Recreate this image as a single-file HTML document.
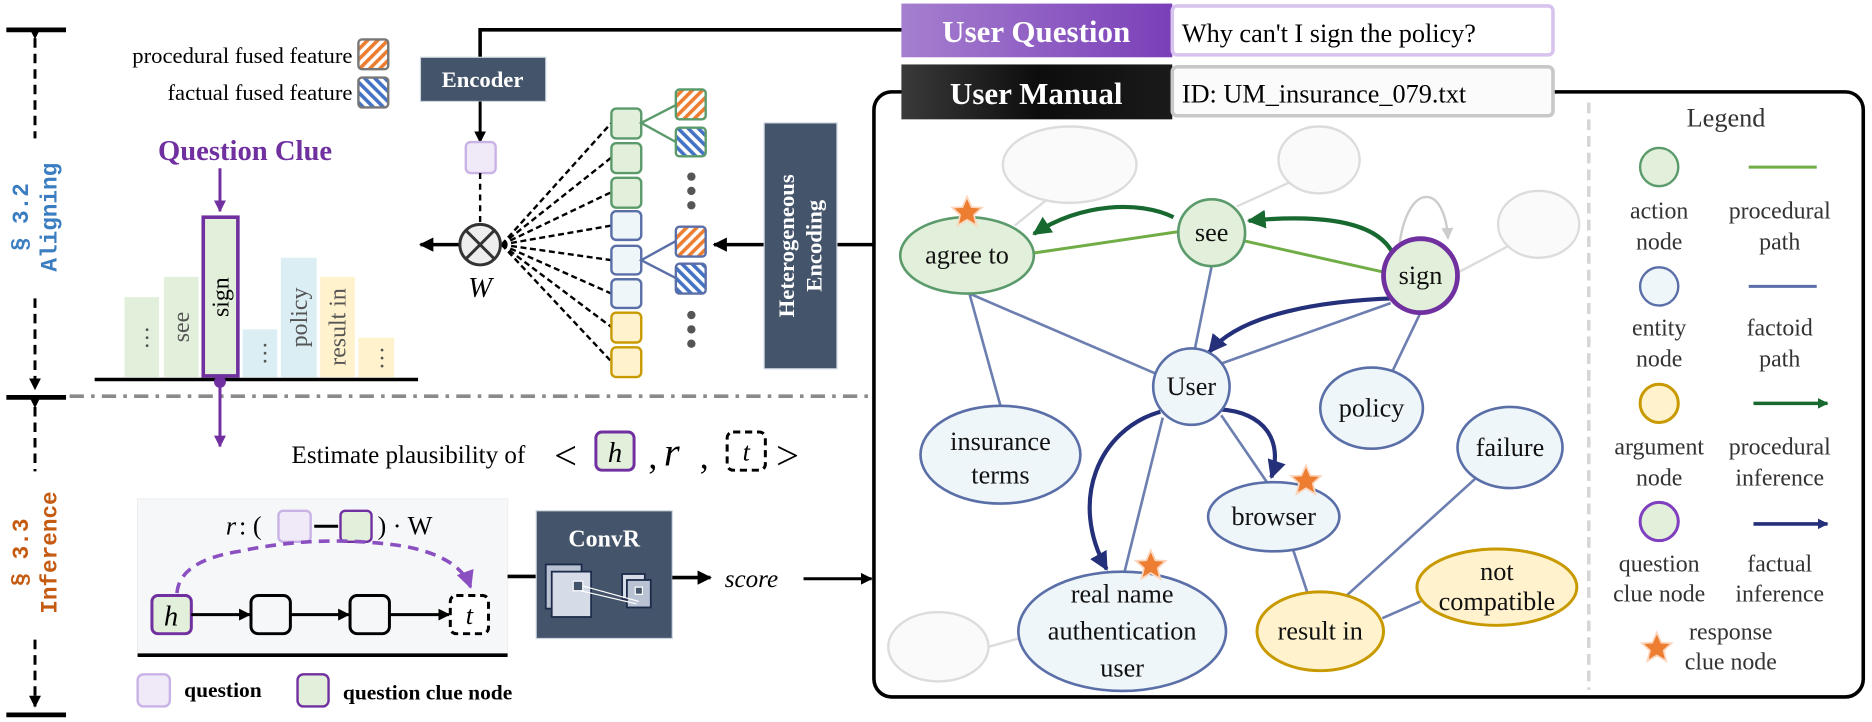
<!DOCTYPE html>
<html><head><meta charset="utf-8"><style>
html,body{margin:0;padding:0;background:#fff;font-family:"Liberation Serif","Times New Roman","DejaVu Serif",serif;}
svg{display:block;}
</style></head><body>
<svg width="1872" height="722" viewBox="0 0 1568 605" xmlns="http://www.w3.org/2000/svg" style="font-family:'Liberation Serif','Times New Roman','DejaVu Serif',serif">
<defs>
<pattern id="ho" width="6" height="6" patternUnits="userSpaceOnUse" patternTransform="rotate(45)"><rect width="6" height="6" fill="#fff"/><rect width="3" height="6" fill="#ed7d31"/></pattern>
<pattern id="hb" width="6" height="6" patternUnits="userSpaceOnUse" patternTransform="rotate(-45)"><rect width="6" height="6" fill="#fff"/><rect width="3" height="6" fill="#4472c4"/></pattern>
<linearGradient id="gq" x1="0" x2="1"><stop offset="0" stop-color="#a57fcf"/><stop offset="1" stop-color="#7a3fb8"/></linearGradient>
<linearGradient id="gm" x1="0" x2="1"><stop offset="0" stop-color="#3a3a3a"/><stop offset="0.5" stop-color="#0d0d0d"/><stop offset="1" stop-color="#1a1a1a"/></linearGradient>
<marker id="ak" viewBox="0 0 10 10" refX="9" refY="5" markerWidth="4" markerHeight="4" orient="auto"><path d="M0,0L10,5L0,10z" fill="#000"/></marker>
<marker id="ap" viewBox="0 0 10 10" refX="9" refY="5" markerWidth="4" markerHeight="4" orient="auto"><path d="M0,0L10,5L0,10z" fill="#7030a0"/></marker>
<marker id="ap2" viewBox="0 0 10 10" refX="9" refY="5" markerWidth="5" markerHeight="5" orient="auto"><path d="M0,0L10,5L0,10z" fill="#8a4fc0"/></marker>
<marker id="ag" viewBox="0 0 10 10" refX="9" refY="5" markerWidth="4.5" markerHeight="4.5" orient="auto"><path d="M0,0L10,5L0,10z" fill="#17692f"/></marker>
<marker id="an" viewBox="0 0 10 10" refX="9" refY="5" markerWidth="4.5" markerHeight="4.5" orient="auto"><path d="M0,0L10,5L0,10z" fill="#25307a"/></marker>
<marker id="agr" viewBox="0 0 10 10" refX="9" refY="5" markerWidth="5" markerHeight="5" orient="auto"><path d="M0,0L10,5L0,10z" fill="#ccc"/></marker>
<marker id="al" viewBox="0 0 10 10" refX="9" refY="5" markerWidth="3" markerHeight="3" orient="auto"><path d="M0,0L10,5L0,10z" fill="#17692f"/></marker>
<marker id="aln" viewBox="0 0 10 10" refX="9" refY="5" markerWidth="3" markerHeight="3" orient="auto"><path d="M0,0L10,5L0,10z" fill="#25307a"/></marker>
<path id="star" d="M0,-13 L3.8,-4.5 L12.4,-4 L5.8,2.1 L7.9,11 L0,6.2 L-7.9,11 L-5.8,2.1 L-12.4,-4 L-3.8,-4.5Z"/>
</defs>

<g stroke="#000" fill="none">
<line x1="5" y1="25" x2="55" y2="25" stroke-width="4"/>
<line x1="29" y1="32" x2="29" y2="116" stroke-width="2.5" stroke-dasharray="8,5" marker-start="url(#ak)"/>
<line x1="29" y1="250" x2="29" y2="326" stroke-width="2.5" stroke-dasharray="8,5" marker-end="url(#ak)"/>
<line x1="5" y1="333" x2="55" y2="333" stroke-width="4"/>
<line x1="29" y1="341" x2="29" y2="395" stroke-width="2.5" stroke-dasharray="8,5" marker-start="url(#ak)"/>
<line x1="29" y1="536" x2="29" y2="592" stroke-width="2.5" stroke-dasharray="8,5" marker-end="url(#ak)"/>
<line x1="5" y1="599" x2="55" y2="599" stroke-width="4"/>
</g>
<g style="font-family:'Liberation Mono','DejaVu Sans Mono',monospace" font-weight="bold" font-size="19" text-anchor="middle">
<text transform="translate(23,182) rotate(-90)" fill="#3a7dc0">§ 3.2</text>
<text transform="translate(47,182) rotate(-90)" fill="#3a7dc0">Aligning</text>
<text transform="translate(23,463) rotate(-90)" fill="#c55a11">§ 3.3</text>
<text transform="translate(47,463) rotate(-90)" fill="#c55a11">Inference</text>
</g>

<line x1="58" y1="332" x2="733" y2="332" stroke="#8a8a8a" stroke-width="3" stroke-dasharray="12,6,3,6"/>

<text x="295" y="53" text-anchor="end" font-size="19">procedural fused feature</text>
<rect x="300" y="33" width="25" height="25" rx="3" fill="url(#ho)" stroke="#777" stroke-width="2"/>
<text x="295" y="84" text-anchor="end" font-size="19">factual fused feature</text>
<rect x="300" y="65" width="25" height="25" rx="3" fill="url(#hb)" stroke="#777" stroke-width="2"/>

<text x="205" y="134" text-anchor="middle" font-size="24" font-weight="bold" fill="#7030a0">Question Clue</text>
<line x1="184" y1="141" x2="184" y2="177" stroke="#7030a0" stroke-width="2.5" marker-end="url(#ap)"/>
<g>
<rect x="104" y="249" width="29" height="67" fill="#e2efda"/>
<rect x="137" y="232" width="29" height="84" fill="#e2efda"/>
<rect x="170" y="182" width="29" height="133" fill="#e2efda" stroke="#7030a0" stroke-width="3"/>
<rect x="203" y="276" width="29" height="40" fill="#dbeef4"/>
<rect x="235" y="216" width="30" height="100" fill="#dbeef4"/>
<rect x="268" y="232" width="29" height="84" fill="#fff2cc"/>
<rect x="300" y="283" width="30" height="33" fill="#fff2cc"/>
</g>
<g font-size="20" fill="#555">
<text transform="translate(124,283) rotate(-90)" text-anchor="middle">…</text>
<text transform="translate(158,274) rotate(-90)" text-anchor="middle">see</text>
<text transform="translate(191,249) rotate(-90)" text-anchor="middle" fill="#000">sign</text>
<text transform="translate(223,296) rotate(-90)" text-anchor="middle">…</text>
<text transform="translate(257,266) rotate(-90)" text-anchor="middle">policy</text>
<text transform="translate(289,274) rotate(-90)" text-anchor="middle">result in</text>
<text transform="translate(321,300) rotate(-90)" text-anchor="middle">…</text>
</g>
<line x1="79" y1="318" x2="350" y2="318" stroke="#000" stroke-width="3"/>
<circle cx="184" cy="320" r="5" fill="#7030a0"/>
<line x1="184" y1="320" x2="184" y2="374" stroke="#7030a0" stroke-width="2.5" marker-end="url(#ap)"/>

<polyline points="402,48 402,25 760,25" fill="none" stroke="#000" stroke-width="3"/>
<rect x="352" y="48" width="105" height="37" fill="#44546a" stroke="#cdd5e0"/>
<text x="404" y="73" text-anchor="middle" font-size="19" font-weight="bold" fill="#fff">Encoder</text>
<line x1="402" y1="85" x2="402" y2="119" stroke="#000" stroke-width="2.5" marker-end="url(#ak)"/>
<rect x="390" y="119" width="25" height="26" rx="4" fill="#f0eaf8" stroke="#c9b3e6" stroke-width="2"/>
<line x1="402" y1="145" x2="402" y2="188" stroke="#000" stroke-width="2" stroke-dasharray="5,4"/>
<line x1="385" y1="205" x2="352" y2="205" stroke="#000" stroke-width="3" marker-end="url(#ak)"/>

<g stroke="#000" stroke-width="2" stroke-dasharray="5,3">
<line x1="420" y1="205" x2="512" y2="103"/><line x1="420" y1="205" x2="512" y2="132"/><line x1="420" y1="205" x2="512" y2="161"/>
<line x1="420" y1="205" x2="512" y2="189"/><line x1="420" y1="205" x2="512" y2="218"/><line x1="420" y1="205" x2="512" y2="246"/>
<line x1="420" y1="205" x2="512" y2="274"/><line x1="420" y1="205" x2="512" y2="303"/>
</g>
<circle cx="402" cy="205" r="17" fill="#eee" stroke="#333" stroke-width="2.5"/>
<line x1="390" y1="193" x2="414" y2="217" stroke="#333" stroke-width="2.5"/><line x1="414" y1="193" x2="390" y2="217" stroke="#333" stroke-width="2.5"/>
<text x="402" y="249" text-anchor="middle" font-size="24" font-style="italic">W</text>

<g stroke-width="2">
<rect x="512" y="91" width="25" height="25" rx="4" fill="#e2efda" stroke="#5b9b6b"/>
<rect x="512" y="120" width="25" height="25" rx="4" fill="#e2efda" stroke="#5b9b6b"/>
<rect x="512" y="149" width="25" height="25" rx="4" fill="#e2efda" stroke="#5b9b6b"/>
<rect x="512" y="177" width="25" height="24" rx="4" fill="#eef6f9" stroke="#5a6ea8"/>
<rect x="512" y="206" width="25" height="24" rx="4" fill="#eef6f9" stroke="#5a6ea8"/>
<rect x="512" y="234" width="25" height="24" rx="4" fill="#eef6f9" stroke="#5a6ea8"/>
<rect x="512" y="262" width="25" height="25" rx="4" fill="#fff2cc" stroke="#c89a00"/>
<rect x="512" y="291" width="25" height="25" rx="4" fill="#fff2cc" stroke="#c89a00"/>
<polyline points="566,88 537,103 566,119" fill="none" stroke="#5b9b6b"/>
<polyline points="566,202 537,218 566,233" fill="none" stroke="#5a6ea8"/>
<rect x="566" y="75" width="25" height="25" rx="3" fill="url(#ho)" stroke="#5b9b6b"/>
<rect x="566" y="107" width="25" height="24" rx="3" fill="url(#hb)" stroke="#5b9b6b"/>
<rect x="566" y="190" width="25" height="25" rx="3" fill="url(#ho)" stroke="#5a6ea8"/>
<rect x="566" y="221" width="25" height="25" rx="3" fill="url(#hb)" stroke="#5a6ea8"/>
</g>
<g fill="#555"><circle cx="579" cy="148" r="3.5"/><circle cx="579" cy="160" r="3.5"/><circle cx="579" cy="172" r="3.5"/><circle cx="579" cy="264" r="3.5"/><circle cx="579" cy="276" r="3.5"/><circle cx="579" cy="288" r="3.5"/></g>

<line x1="733" y1="205" x2="700" y2="205" stroke="#000" stroke-width="3"/>
<line x1="640" y1="205" x2="598" y2="205" stroke="#000" stroke-width="3" marker-end="url(#ak)"/>
<rect x="640" y="103" width="61" height="206" fill="#44546a" stroke="#cdd5e0"/>
<text transform="translate(665,206) rotate(-90)" text-anchor="middle" font-size="19" font-weight="bold" fill="#fff">Heterogeneous</text>
<text transform="translate(688,206) rotate(-90)" text-anchor="middle" font-size="19" font-weight="bold" fill="#fff">Encoding</text>

<text x="244" y="388" font-size="21">Estimate plausibility of</text>
<text x="464" y="393" font-size="34">&lt;</text>
<rect x="499" y="362" width="32" height="32" rx="5" fill="#e2efda" stroke="#7030a0" stroke-width="2.5"/>
<text x="515" y="387" text-anchor="middle" font-size="24" font-style="italic">h</text>
<text x="543" y="392" font-size="30">,</text>
<text x="556" y="390" font-size="34" font-style="italic">r</text>
<text x="586" y="392" font-size="30">,</text>
<rect x="609" y="362" width="32" height="32" rx="5" fill="#fff" stroke="#000" stroke-width="2.5" stroke-dasharray="6,4"/>
<text x="625" y="386" text-anchor="middle" font-size="22" font-style="italic">t</text>
<text x="650" y="393" font-size="34">&gt;</text>

<rect x="115" y="418" width="310" height="131" fill="#f6f7f9" stroke="#eee"/>
<line x1="115" y1="549" x2="425" y2="549" stroke="#000" stroke-width="3"/>
<text x="189" y="448" font-size="22" font-style="italic">r</text><text x="200" y="448" font-size="22">: (</text>
<rect x="233" y="428" width="27" height="26" rx="4" fill="#f0eaf8" stroke="#c9b3e6" stroke-width="2"/>
<line x1="263" y1="441" x2="283" y2="441" stroke="#000" stroke-width="2.5"/>
<rect x="285" y="428" width="26" height="26" rx="4" fill="#e2efda" stroke="#7030a0" stroke-width="2"/>
<text x="316" y="448" font-size="22">) · W</text>
<path d="M148,497 Q150,470 200,462 Q270,447 340,458 Q385,467 394,492" fill="none" stroke="#8a4fc0" stroke-width="3" stroke-dasharray="9,6" marker-end="url(#ap2)"/>
<rect x="127" y="499" width="33" height="32" rx="5" fill="#e2efda" stroke="#7030a0" stroke-width="2.5"/>
<text x="143" y="524" text-anchor="middle" font-size="24" font-style="italic">h</text>
<rect x="210" y="499" width="33" height="32" rx="6" fill="#f6f7f9" stroke="#000" stroke-width="2.5"/>
<rect x="293" y="499" width="33" height="32" rx="6" fill="#f6f7f9" stroke="#000" stroke-width="2.5"/>
<rect x="377" y="499" width="32" height="32" rx="5" fill="#fff" stroke="#000" stroke-width="2.5" stroke-dasharray="6,4"/>
<text x="393" y="523" text-anchor="middle" font-size="22" font-style="italic">t</text>
<g stroke="#000" stroke-width="2.5"><line x1="160" y1="515" x2="209" y2="515" marker-end="url(#ak)"/><line x1="243" y1="515" x2="292" y2="515" marker-end="url(#ak)"/><line x1="326" y1="515" x2="376" y2="515" marker-end="url(#ak)"/></g>

<rect x="115" y="565" width="27" height="27" rx="5" fill="#f0eaf8" stroke="#c9b3e6" stroke-width="2"/>
<text x="154" y="584" font-size="18" font-weight="bold">question</text>
<rect x="249" y="565" width="26" height="27" rx="5" fill="#e2efda" stroke="#7030a0" stroke-width="2"/>
<text x="287" y="586" font-size="18" font-weight="bold">question clue node</text>

<line x1="425" y1="483" x2="449" y2="483" stroke="#000" stroke-width="3"/>
<rect x="449" y="428" width="114" height="107" fill="#44546a" stroke="#cdd5e0"/>
<text x="506" y="458" text-anchor="middle" font-size="20" font-weight="bold" fill="#fff">ConvR</text>
<rect x="457" y="473" width="30" height="37" fill="#b8c2d3" stroke="#1d2b4a" stroke-width="1.5"/>
<rect x="462" y="479" width="33" height="38" fill="#d6dce7" stroke="#1d2b4a" stroke-width="1.5"/>
<rect x="480" y="487" width="8" height="8" fill="#44546a" stroke="#fff" stroke-width="1"/>
<rect x="521" y="481" width="19" height="21" fill="#d6dce7" stroke="#1d2b4a" stroke-width="1.5"/>
<rect x="525" y="486" width="20" height="23" fill="#b8c2d3" stroke="#1d2b4a" stroke-width="1.5"/>
<rect x="532" y="492" width="6" height="6" fill="#44546a" stroke="#fff" stroke-width="1"/>
<line x1="488" y1="491" x2="535" y2="504" stroke="#fff" stroke-width="1"/><line x1="486" y1="495" x2="533" y2="506" stroke="#fff" stroke-width="1"/>
<line x1="563" y1="484" x2="595" y2="484" stroke="#000" stroke-width="3" marker-end="url(#ak)"/>
<text x="607" y="492" font-size="21" font-style="italic">score</text>
<line x1="673" y1="485" x2="730" y2="485" stroke="#000" stroke-width="2.5" marker-end="url(#ak)"/>

<rect x="732" y="77" width="829" height="507" rx="15" fill="#fff" stroke="#000" stroke-width="3"/>
<line x1="1331" y1="86" x2="1331" y2="578" stroke="#d6d6d6" stroke-width="3" stroke-dasharray="9,5"/>

<rect x="755" y="3" width="227" height="45" fill="url(#gq)"/>
<text x="868" y="35" text-anchor="middle" font-size="26" font-weight="bold" fill="#fff">User Question</text>
<rect x="982" y="5" width="319" height="41" rx="4" fill="#fff" stroke="#d7c3ee" stroke-width="3"/>
<text x="990" y="35" font-size="22">Why can't I sign the policy?</text>
<rect x="755" y="54" width="227" height="46" fill="url(#gm)"/>
<text x="868" y="87" text-anchor="middle" font-size="26" font-weight="bold" fill="#fff">User Manual</text>
<rect x="982" y="56" width="319" height="41" rx="4" fill="#fbfbfb" stroke="#c8c8c8" stroke-width="3"/>
<text x="990" y="86" font-size="22">ID: UM_insurance_079.txt</text>

<g stroke="#dcdcdc" stroke-width="2" fill="none">
<line x1="850" y1="189" x2="876" y2="168"/><line x1="1036" y1="173" x2="1080" y2="153"/>
<line x1="1222" y1="228" x2="1264" y2="206"/><line x1="853" y1="535" x2="828" y2="542"/>
<path d="M1172,208 C1175,180 1185,165 1195,165 C1205,165 1212,180 1213,200" stroke="#ccc" marker-end="url(#agr)"/>
</g>
<g stroke="#6d7fb0" stroke-width="2.2" fill="none">
<line x1="812" y1="246" x2="838" y2="340"/><line x1="812" y1="246" x2="968" y2="313"/>
<line x1="1015" y1="223" x2="1001" y2="292"/><line x1="1165" y1="254" x2="1022" y2="305"/>
<line x1="1190" y1="262" x2="1167" y2="310"/><line x1="974" y1="350" x2="942" y2="479"/>
<line x1="1023" y1="348" x2="1062" y2="405"/><line x1="1083" y1="460" x2="1095" y2="496"/>
<line x1="1127" y1="500" x2="1236" y2="401"/><line x1="1158" y1="518" x2="1190" y2="504"/>
</g>
<g stroke="#70ad47" stroke-width="2.5"><line x1="866" y1="212" x2="988" y2="194"/><line x1="1043" y1="202" x2="1159" y2="228"/></g>
<g stroke="#17692f" stroke-width="3.5" fill="none">
<path d="M1168,215 C1158,190 1120,178 1046,185" marker-end="url(#ag)"/>
<path d="M983,182 C955,168 905,170 866,196" marker-end="url(#ag)"/>
</g>
<g stroke="#25307a" stroke-width="3.5" fill="none">
<path d="M1168,250 C1110,252 1040,262 1013,295" marker-end="url(#an)"/>
<path d="M972,345 C920,360 895,420 927,477" marker-end="url(#an)"/>
<path d="M1021,343 C1060,345 1075,370 1065,400" marker-end="url(#an)"/>
</g>

<g stroke="#dcdcdc" stroke-width="2" fill="#fafafa">
<ellipse cx="896" cy="138" rx="56" ry="32"/><ellipse cx="1105" cy="134" rx="34" ry="28"/>
<ellipse cx="1289" cy="188" rx="34" ry="28"/><ellipse cx="786" cy="542" rx="42" ry="29"/>
</g>
<g stroke-width="2.2">
<ellipse cx="810" cy="214" rx="56" ry="32" fill="#e2efda" stroke="#5b9b6b"/>
<ellipse cx="1015" cy="195" rx="28" ry="28" fill="#e2efda" stroke="#5b9b6b"/>
<ellipse cx="1190" cy="231" rx="31" ry="31" fill="#e2efda" stroke="#7030a0" stroke-width="4"/>
<ellipse cx="998" cy="324" rx="32" ry="32" fill="#eef6f9" stroke="#5a6ea8"/>
<ellipse cx="1149" cy="342" rx="43" ry="34" fill="#eef6f9" stroke="#5a6ea8"/>
<ellipse cx="838" cy="381" rx="67" ry="41" fill="#eef6f9" stroke="#5a6ea8"/>
<ellipse cx="1265" cy="375" rx="44" ry="34" fill="#eef6f9" stroke="#5a6ea8"/>
<ellipse cx="1067" cy="433" rx="55" ry="29" fill="#eef6f9" stroke="#5a6ea8"/>
<ellipse cx="940" cy="529" rx="87" ry="50" fill="#eef6f9" stroke="#5a6ea8"/>
<ellipse cx="1106" cy="529" rx="53" ry="33" fill="#fff2cc" stroke="#c89a00" stroke-width="2.5"/>
<ellipse cx="1254" cy="492" rx="67" ry="32" fill="#fff2cc" stroke="#c89a00" stroke-width="2.5"/>
</g>
<g font-size="22" text-anchor="middle" fill="#111">
<text x="810" y="221">agree to</text><text x="1015" y="202">see</text><text x="1190" y="238">sign</text>
<text x="998" y="331">User</text><text x="1149" y="349">policy</text>
<text x="838" y="377">insurance</text><text x="838" y="405">terms</text>
<text x="1265" y="382">failure</text><text x="1067" y="440">browser</text>
<text x="940" y="505">real name</text><text x="940" y="536">authentication</text><text x="940" y="567">user</text>
<text x="1106" y="536">result in</text>
<text x="1254" y="486">not</text><text x="1254" y="511">compatible</text>
</g>
<g fill="#ed7d31" stroke="#fbd6bd" stroke-width="1.5">
<use href="#star" x="810" y="178"/><use href="#star" x="1094" y="403"/><use href="#star" x="964" y="474"/><use href="#star" x="1388" y="543"/>
</g>

<text x="1446" y="106" text-anchor="middle" font-size="22" fill="#333">Legend</text>
<circle cx="1390" cy="140" r="16" fill="#e2efda" stroke="#5b9b6b" stroke-width="2"/>
<circle cx="1390" cy="240" r="16" fill="#eef6f9" stroke="#5a6ea8" stroke-width="2"/>
<circle cx="1390" cy="338" r="16" fill="#fff2cc" stroke="#c89a00" stroke-width="2.5"/>
<circle cx="1390" cy="437" r="16" fill="#e2efda" stroke="#7f3fbf" stroke-width="2.5"/>
<line x1="1465" y1="140" x2="1522" y2="140" stroke="#70ad47" stroke-width="2.5"/>
<line x1="1465" y1="240" x2="1522" y2="240" stroke="#5a6ea8" stroke-width="2.5"/>
<line x1="1469" y1="338" x2="1531" y2="338" stroke="#17692f" stroke-width="3" marker-end="url(#al)"/>
<line x1="1469" y1="439" x2="1531" y2="439" stroke="#25307a" stroke-width="3" marker-end="url(#aln)"/>
<g font-size="20" text-anchor="middle" fill="#333">
<text x="1390" y="183">action</text><text x="1390" y="209">node</text>
<text x="1491" y="183">procedural</text><text x="1491" y="209">path</text>
<text x="1390" y="281">entity</text><text x="1390" y="307">node</text>
<text x="1491" y="281">factoid</text><text x="1491" y="307">path</text>
<text x="1390" y="381">argument</text><text x="1390" y="407">node</text>
<text x="1491" y="381">procedural</text><text x="1491" y="407">inference</text>
<text x="1390" y="479">question</text><text x="1390" y="504">clue node</text>
<text x="1491" y="479">factual</text><text x="1491" y="504">inference</text>
<text x="1450" y="536">response</text><text x="1450" y="561">clue node</text>
</g>
</svg>
</body></html>
